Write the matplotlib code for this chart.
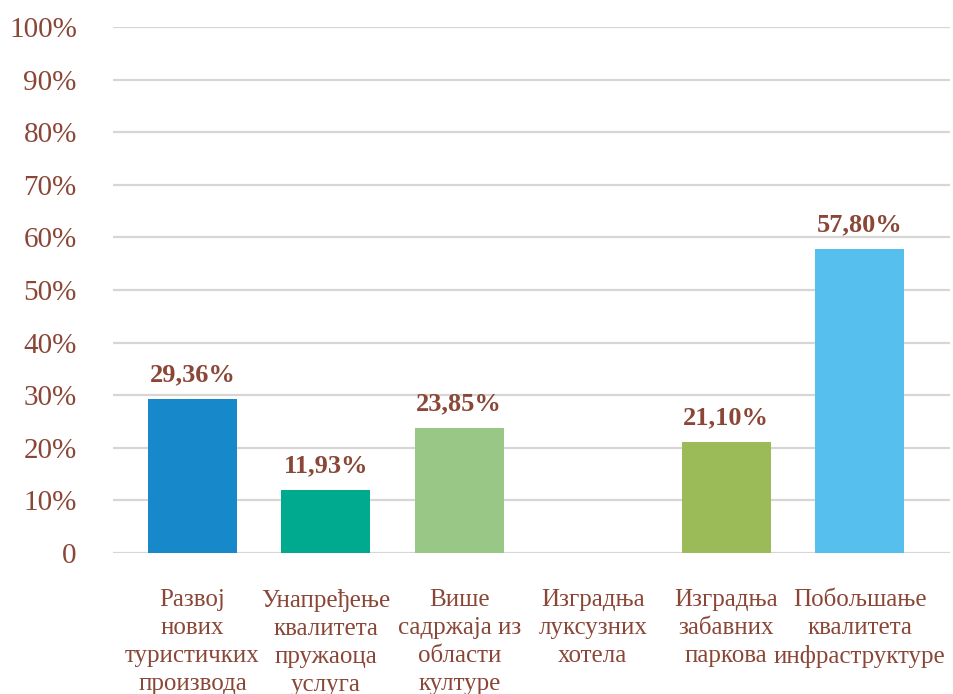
import matplotlib.pyplot as plt
from matplotlib.ticker import FuncFormatter

categories = ['Развој\nнових\nтуристичких\nпроизвода',
              'Унапређење\nквалитета\nпружаоца\nуслуга',
              'Више\nсадржаја из\nобласти\nкултуре',
              'Изградња\nлуксузних\nхотела',
              'Изградња\nзабавних\nпаркова',
              'Побољшање\nквалитета\nинфраструктуре']
values = [29.36, 11.93, 23.85, 0.0, 21.10, 57.80]
colors = ['#1789CA', '#00AA8E', '#98C786', '#9BBB59', '#9BBB59', '#57BFED']

text_color = '#8A4636'
plt.rcParams['font.family'] = ['Liberation Serif', 'DejaVu Serif']

fig = plt.figure(figsize=(9.54, 6.94), dpi=100)
ax = fig.add_axes([0.1184, 0.2032, 0.8774, 0.7579])

x = range(len(categories))
bars = ax.bar(x, values, width=0.667, color=colors, zorder=3)

for xi, v in zip(x, values):
    if v > 0:
        ax.text(xi, v + 2.4, ('%.2f%%' % v).replace('.', ','), ha='center', va='bottom',
                fontsize=19, fontweight='bold', color=text_color)

ax.set_ylim(0, 100)
ax.set_xlim(-0.596, 5.678)
ax.set_yticks(range(0, 101, 10))
ax.yaxis.set_major_formatter(FuncFormatter(lambda v, p: '0' if v == 0 else '%d%%' % v))
ax.set_xticks(list(x))
ax.set_xticklabels(categories, fontsize=18, color=text_color, linespacing=1.35)
ax.tick_params(axis='y', length=0, pad=26, labelsize=21, labelcolor=text_color)
ax.tick_params(axis='x', length=0, pad=26)
ax.grid(axis='y', color='#D9D5D2', linewidth=1.6, zorder=0)
for s in ax.spines.values():
    s.set_visible(False)

fig.savefig('out.png', dpi=100)
